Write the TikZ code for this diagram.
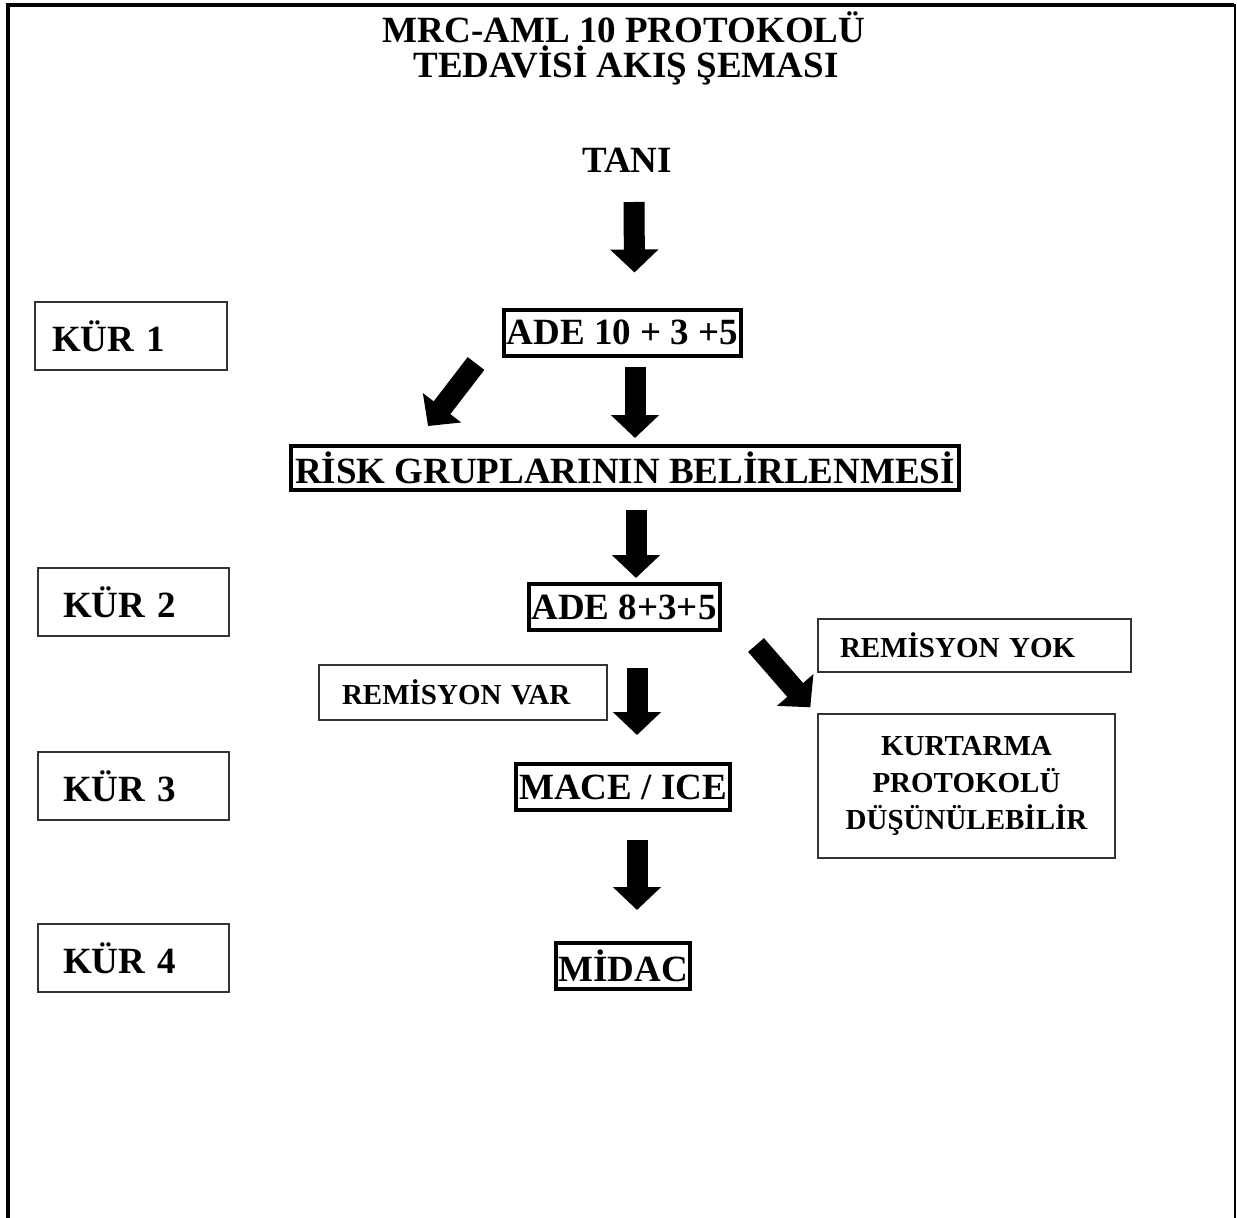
\documentclass[tikz,border=0pt]{standalone}
\usepackage{fontspec}
\setmainfont{Liberation Serif}
\usetikzlibrary{arrows.meta}

\begin{document}
\begin{tikzpicture}[x=1pt,y=-1pt,
txt/.style={font=\fontsize{37}{40}\selectfont\bfseries,inner sep=0pt},
tbox/.style={draw,line width=4pt,font=\fontsize{37}{40}\selectfont\bfseries,inner sep=0pt,minimum height=46pt},
kbox/.style={draw=black!80,line width=1.4pt,font=\fontsize{37}{40}\selectfont\bfseries,inner sep=0pt,align=left,minimum height=68pt},
rbox/.style={draw=black!80,line width=1.4pt,font=\fontsize{29}{37}\selectfont\bfseries,inner sep=0pt},
blk/.style={-{Triangle[width=47pt,length=23pt]},line width=21pt}]

\useasboundingbox(0,0)rectangle(1237,1218);
\draw[line width=4pt](8,1218)--(8,5)--(1234,5);
\draw[line width=2pt](1235,4)--(1235,1218);

\node[txt,anchor=base](title1)at(624,42){MRC-AML 10 PROTOKOLÜ};
\node[txt,anchor=base](title2)at(626,77){TEDAVİSİ AKIŞ ŞEMASI};
\node[txt,anchor=base](tani)at(627,172){TANI};

\node[tbox,minimum width=237pt](ade1)at(622.5,332.5){ADE 10 + 3 +5};
\node[tbox,minimum width=668pt,minimum height=44pt](risk)at(625,468){RİSK GRUPLARININ BELİRLENMESİ};
\node[tbox,minimum width=191pt](ade2)at(624,607){ADE 8+3+5};
\node[tbox,minimum width=214pt](mace)at(623,787){MACE / ICE};
\node[tbox,minimum width=134pt](midac)at(623,966){MİDAC};

\node[kbox,text width=158pt,inner xsep=17pt](kur1)at(131,336){KÜR 1};
\node[kbox,text width=141pt,inner xsep=25pt](kur2)at(133.5,602){KÜR 2};
\node[kbox,text width=141pt,inner xsep=25pt](kur3)at(133.5,786){KÜR 3};
\node[kbox,text width=141pt,inner xsep=25pt](kur4)at(133.5,958){KÜR 4};

\node[rbox,text width=242pt,inner xsep=23pt,align=left,minimum height=55pt](rvar)at(463,692.5){REMİSYON VAR};
\node[rbox,text width=269pt,inner xsep=22pt,align=left,minimum height=53pt](ryok)at(974.5,645.5){REMİSYON YOK};
\node[rbox,text width=297pt,align=center,minimum height=144pt](kurt)at(966.5,786){KURTARMA\\PROTOKOLÜ\\DÜŞÜNÜLEBİLİR};

\draw[blk]([xshift=7pt,yshift=-30pt]tani.base)--([xshift=12pt,yshift=35pt]ade1.north);
\draw[blk]([xshift=12.5pt,yshift=-9pt]ade1.south)--([xshift=10pt,yshift=6pt]risk.north);
\draw[blk]([xshift=-26pt,yshift=-6pt]ade1.south west)--([xshift=139pt,yshift=18pt]risk.north west);
\draw[blk]([xshift=11pt,yshift=-18pt]risk.south)--([xshift=12pt,yshift=4pt]ade2.north);
\draw[blk]([xshift=13pt,yshift=-36pt]ade2.south)--([xshift=14pt,yshift=27pt]mace.north);
\draw[blk]([xshift=34.5pt,yshift=-13pt]ade2.south east)--([xshift=-7pt,yshift=6pt]kurt.north west);
\draw[blk]([xshift=14pt,yshift=-28pt]mace.south)--([xshift=14pt,yshift=31pt]midac.north);
\end{tikzpicture}
\end{document}
